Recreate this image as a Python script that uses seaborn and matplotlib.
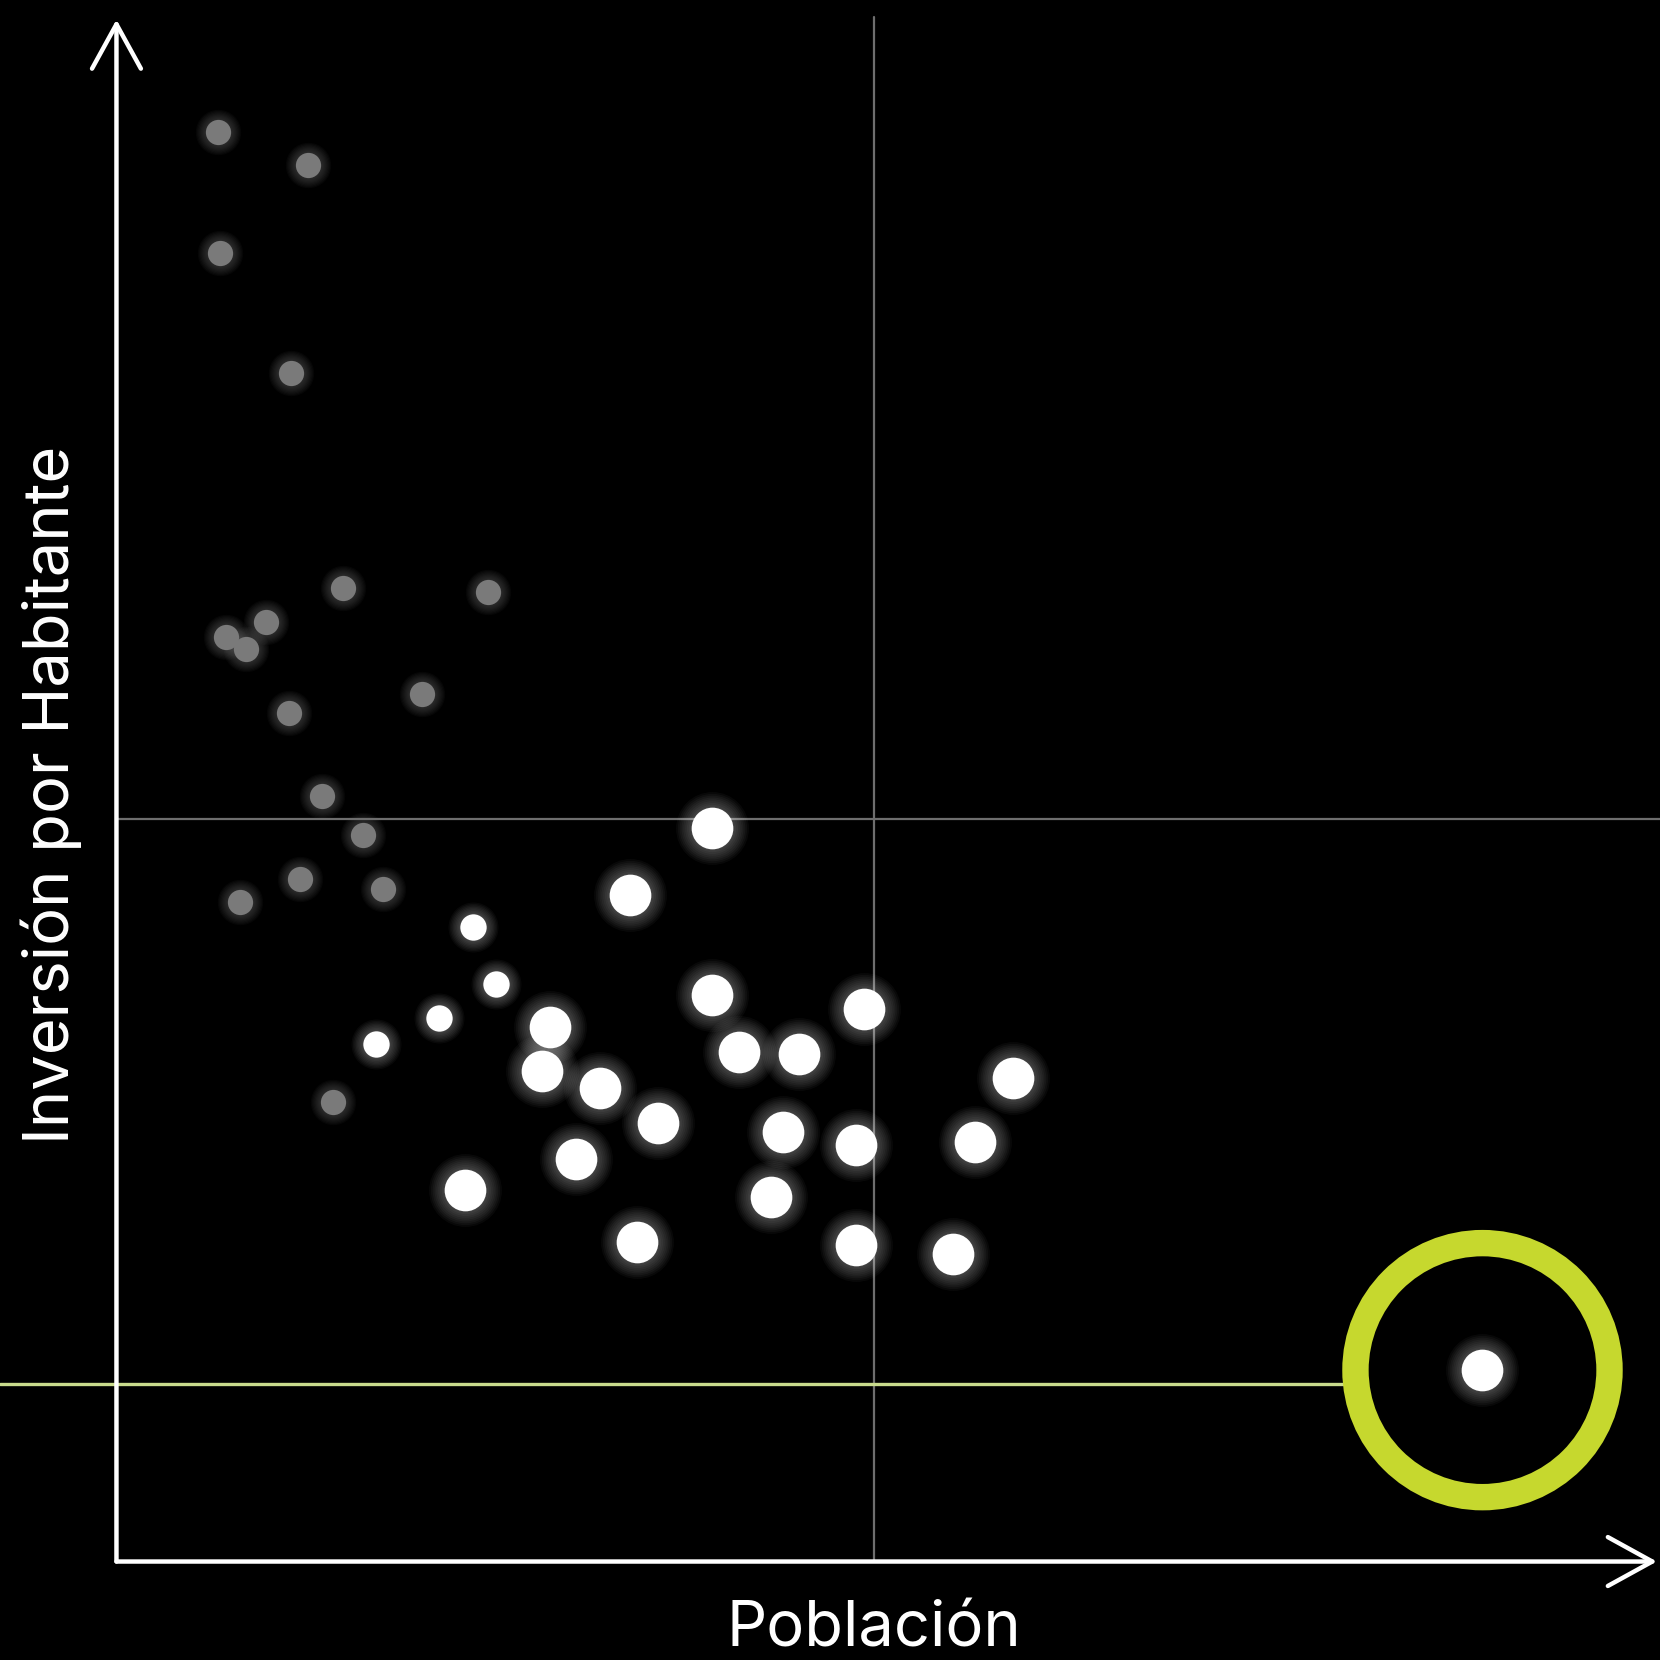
import matplotlib
matplotlib.use("Agg")
import matplotlib.pyplot as plt
import seaborn as sns
import pandas as pd
from matplotlib.patches import Circle

# ---------------- data (arbitrary units, 0-100 scale) ----------------
gray_x = [6.6, 12.4, 6.7, 11.3, 14.7, 24.1, 9.7, 7.1, 8.4, 19.8, 11.2, 13.3, 16.0, 11.9, 17.3, 8.0, 14.0]
gray_y = [92.6, 90.5, 84.8, 77.0, 63.1, 62.8, 60.9, 59.9, 59.1, 56.2, 55.0, 49.6, 47.1, 44.2, 43.6, 42.7, 29.8]

small_x = [23.1, 24.6, 20.9, 16.8]
small_y = [41.1, 37.4, 35.2, 33.5]

large_x = [38.6, 33.3, 38.6, 48.4, 28.1, 40.3, 44.2, 27.6, 31.3, 58.1,
           35.1, 43.2, 47.9, 55.6, 29.8, 22.6, 42.4, 33.7, 47.9, 54.2]
large_y = [47.5, 43.2, 36.7, 35.8, 34.6, 33.0, 32.9, 31.8, 30.7, 31.3,
           28.4, 27.8, 27.0, 27.2, 26.1, 24.1, 23.6, 20.7, 20.5, 19.9]

focus_x = [88.5]
focus_y = [12.4]

median_x = 49.1   # vertical reference line
median_y = 48.1   # horizontal reference line
focus_line_y = 11.5

x_label = "Población"
y_label = "Inversión por Habitante"

# ---------------- figure ----------------
sns.set_theme(style="white")
plt.rcParams['font.family'] = ['Inter', 'DejaVu Sans']

fig = plt.figure(figsize=(16.6, 16.6), dpi=100, facecolor="black")
ax = fig.add_axes([0, 0, 1, 1])
ax.set_facecolor("black")
ax.set_xlim(-7.545, 100.0)
ax.set_ylim(-6.38, 101.17)
ax.axis("off")

df_gray = pd.DataFrame({"x": gray_x, "y": gray_y})
df_small = pd.DataFrame({"x": small_x, "y": small_y})
df_large = pd.DataFrame({"x": large_x + focus_x, "y": large_y + focus_y})

# reference lines
ax.plot([median_x, median_x], [0, 100.1], color="#6e6e6e", lw=1.6, zorder=1)
ax.plot([0, 100.0], [median_y, median_y], color="#6e6e6e", lw=1.6, zorder=1)

# soft glow: many faint layers
def glow(df, base_s, color, max_scale, layer_alpha, n=9, core_alpha=1.0):
    for i in range(n):
        k = max_scale - (max_scale - 1.05) * i / (n - 1)
        sns.scatterplot(data=df, x="x", y="y", ax=ax, s=base_s * k * k, color=color,
                        alpha=layer_alpha, linewidth=0, legend=False, zorder=3)
    sns.scatterplot(data=df, x="x", y="y", ax=ax, s=base_s, color=color,
                    alpha=core_alpha, linewidth=0, legend=False, zorder=4)

glow(df_gray, 330, "#7a7a7a", 1.8, 0.05)
glow(df_small, 360, "white", 1.9, 0.035)
glow(df_large, 900, "white", 1.75, 0.035)

# focus ring and line
ring_r = 8.23
ax.plot([-7.545, focus_x[0] - ring_r - 0.7], [focus_line_y, focus_line_y],
        color="#c9db8c", lw=2.4, zorder=2)
ax.add_patch(Circle((focus_x[0], focus_y[0]), ring_r, facecolor="none",
                    edgecolor="#c6d82e", lw=19, zorder=5))

# axes with arrows
arrow_kw = dict(arrowstyle="->,head_length=1.0,head_width=0.55",
                color="white", lw=3.2, mutation_scale=32, shrinkA=0, shrinkB=0)
ax.annotate("", xy=(0, 99.9), xytext=(0, 0), arrowprops=arrow_kw, zorder=6)
ax.annotate("", xy=(99.8, 0), xytext=(0, 0), arrowprops=arrow_kw, zorder=6)

ax.text(median_x, -4.45, x_label, color="white", fontsize=45.5,
        ha="center", va="center")
ax.text(-4.25, 49.7, y_label, color="white", fontsize=45.5, rotation=90,
        ha="center", va="center")

fig.savefig("out.png", dpi=100, facecolor="black")
